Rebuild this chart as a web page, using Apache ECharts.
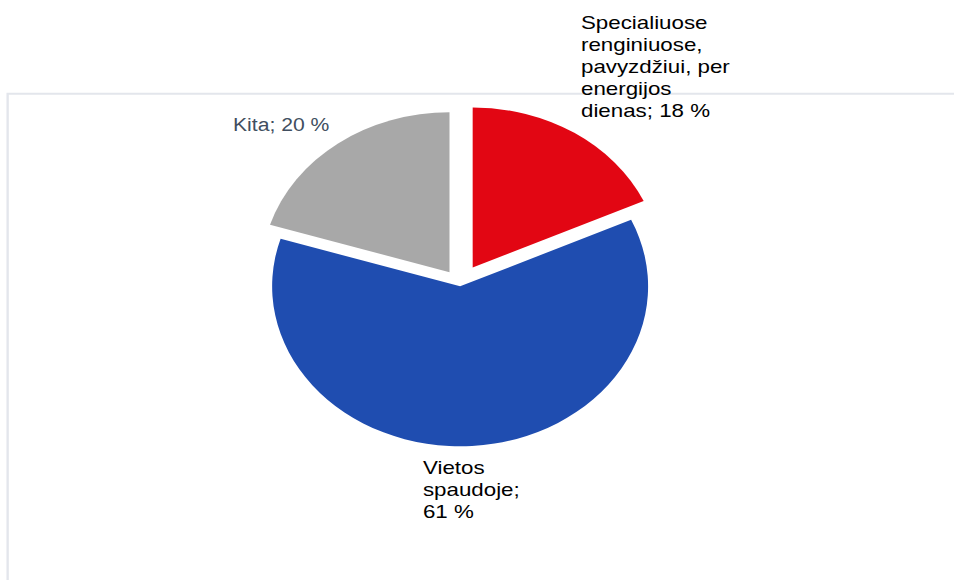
<!DOCTYPE html>
<html>
<head>
<meta charset="utf-8">
<script src="https://cdn.jsdelivr.net/npm/echarts@6/dist/echarts.min.js"></script>
<style>
  html, body { margin: 0; padding: 0; background: #fff; }
  #wrap { width: 954px; height: 580px; overflow: hidden; position: relative; }
  #chart { width: 812px; height: 580px; transform: scaleX(1.17488); transform-origin: 0 0; }
</style>
</head>
<body>
<div id="wrap"><div id="chart"></div></div>
<script>
// ---- data ----
const categories = ['Specialiuose renginiuose, pavyzdžiui, per energijos dienas', 'Vietos spaudoje', 'Kita'];
const values = [18, 61, 20];

// ---- styling / layout (kept separate from data) ----
const colors = ['#e20613', '#1f4db0', '#a8a8a8'];
const labelColors = ['#000000', '#000000', '#414e5f'];
const labelFontSizes = [19, 19, 18];
const explode = [20, 2, 15];
const wrapChars = [15, 9, 20];
// label anchor (left/top) in unscaled chart units
const labelPos = [[494.5, 11], [360, 456], [198.3, 113.7]];

function wrapText(str, maxChars) {
  const words = str.split(' ');
  const lines = [];
  let cur = '';
  words.forEach(w => {
    const cand = cur ? cur + ' ' + w : w;
    if (cand.length > maxChars && cur) { lines.push(cur); cur = w; }
    else cur = cand;
  });
  if (cur) lines.push(cur);
  return lines.join('\n');
}

const chart = echarts.init(document.getElementById('chart'), null, { renderer: 'svg' });

const series = categories.map((_, s) => ({
  type: 'pie',
  center: [391.5, 284.3],
  radius: [0, 160],
  startAngle: 90,
  clockwise: true,
  selectedMode: 'multiple',
  selectedOffset: explode[s],
  silent: true,
  animation: false,
  emphasis: { disabled: true },
  label: { show: false },
  labelLine: { show: false },
  data: categories.map((name, i) => ({
    name: name,
    value: values[i],
    selected: i === s,
    itemStyle: { color: i === s ? colors[i] : 'rgba(0,0,0,0)' }
  }))
}));

const labels = categories.map((name, i) => ({
  type: 'text',
  silent: true,
  z: 10,
  x: labelPos[i][0],
  y: labelPos[i][1],
  style: {
    text: wrapText(name + '; ' + values[i] + ' %', wrapChars[i]),
    fill: labelColors[i],
    fontFamily: 'Liberation Sans',
    fontSize: labelFontSizes[i],
    lineHeight: 22,
    align: 'left',
    verticalAlign: 'top'
  }
}));

chart.setOption({
  animation: false,
  graphic: [{
    type: 'rect',
    z: -10,
    silent: true,
    shape: { x: 6.5, y: 93.8, width: 1000, height: 700 },
    style: { fill: 'none', stroke: '#e3e6ec', lineWidth: 2 }
  }].concat(labels),
  series: series
});
</script>
</body>
</html>
